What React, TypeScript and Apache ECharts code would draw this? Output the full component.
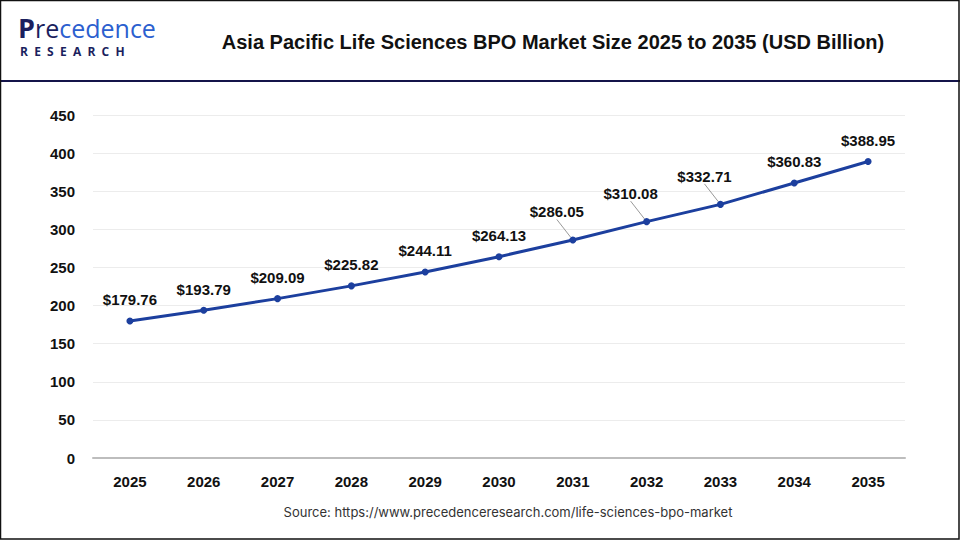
import React, { useEffect, useRef } from "react";
import * as echarts from "echarts";

const years = ["2025", "2026", "2027", "2028", "2029", "2030", "2031", "2032", "2033", "2034", "2035"];
const marketSize = [179.76, 193.79, 209.09, 225.82, 244.11, 264.13, 286.05, 310.08, 332.71, 360.83, 388.95];
const leaderIdx = [6, 7, 8];
const shiftedIdx = [1, 2, 3, 4, 5];

export default function App() {
  const ref = useRef<HTMLDivElement>(null);
  useEffect(() => {
    document.body.style.margin = "0";
    const chart = echarts.init(ref.current!, null, { renderer: "svg" });
    const seriesData = marketSize.map((v, i) => {
      if (shiftedIdx.indexOf(i) >= 0) return { value: v, label: { offset: [6, 0] } };
      if (leaderIdx.indexOf(i) >= 0) return { value: v, labelLine: { show: true } };
      return { value: v };
    });
    chart.setOption({
      animation: false,
      backgroundColor: "#ffffff",
      graphic: [
        { type: "rect", shape: { x: 0.5, y: 0.5, width: 958.5, height: 538.5 }, style: { fill: "none", stroke: "#111", lineWidth: 1.5 }, z: 10 },
        { type: "rect", shape: { x: 0, y: 80, width: 960, height: 2 }, style: { fill: "#14144a" } },
        {
          type: "text", x: 18, y: 14,
          style: {
            text: "{a|P}{b|re}{c|cedence}",
            rich: {
              a: { fontSize: 27, fontWeight: "bold", fill: "#1b1f5e", fontFamily: "'Open Sans', sans-serif" },
              b: { fontSize: 25, fill: "#1b1f5e", fontFamily: "'Open Sans', sans-serif" },
              c: { fontSize: 25, fill: "#2c5fcf", fontFamily: "'Open Sans', sans-serif" },
            },
          },
        },
        {
          type: "text", x: 20, y: 45,
          style: {
            text: "R  E  S  E  A  R  C  H",
            fontSize: 12, fontWeight: "bold", fill: "#1b1f5e", fontFamily: "'Open Sans', sans-serif",
          },
        },
        {
          type: "text", x: 553, y: 42,
          style: {
            text: "Asia Pacific Life Sciences BPO Market Size 2025 to 2035 (USD Billion)",
            fontSize: 20, fontWeight: "bold", fill: "#111", fontFamily: "'Liberation Sans', Arial, sans-serif",
            align: "center", verticalAlign: "middle",
          },
        },
        {
          type: "text", x: 508, y: 512,
          style: {
            text: "Source: https://www.precedenceresearch.com/life-sciences-bpo-market",
            fontSize: 13, fill: "#333", fontFamily: "Inter, 'Liberation Sans', sans-serif",
            align: "center", verticalAlign: "middle",
          },
        },
      ],
      grid: { left: 93, right: 55, top: 115, bottom: 82 },
      xAxis: {
        type: "category",
        data: years,
        boundaryGap: true,
        axisLine: { show: true, lineStyle: { color: "#bdbdbd", width: 2 } },
        axisTick: { show: false },
        axisLabel: { color: "#111", fontSize: 15, fontWeight: "bold", margin: 16, fontFamily: "'Liberation Sans', Arial, sans-serif" },
      },
      yAxis: {
        type: "value",
        min: 0, max: 450, interval: 50,
        axisLine: { show: false },
        axisTick: { show: false },
        splitLine: { lineStyle: { color: "#ececec", width: 1 } },
        axisLabel: { color: "#111", fontSize: 15, fontWeight: "bold", margin: 18, fontFamily: "'Liberation Sans', Arial, sans-serif" },
      },
      series: [
        {
          type: "line",
          data: seriesData,
          lineStyle: { color: "#1c3f9e", width: 3 },
          itemStyle: { color: "#1c3f9e" },
          symbol: "circle",
          symbolSize: 7,
          label: {
            show: true,
            position: "top",
            distance: 10,
            formatter: (p: any) => "$" + Number(p.value).toFixed(2),
            color: "#111",
            fontSize: 15,
            fontWeight: "bold",
            fontFamily: "'Liberation Sans', Arial, sans-serif",
          },
          labelLine: { show: false, lineStyle: { color: "#999", width: 1 } },
          labelLayout: (p: any) => {
            if (leaderIdx.indexOf(p.dataIndex) >= 0) return { dx: -16, dy: -7 };
            return {};
          },
        },
      ],
    });
    return () => chart.dispose();
  }, []);
  return <div ref={ref} style={{ position: "absolute", left: 0, top: 0, width: 960, height: 540 }} />;
}
